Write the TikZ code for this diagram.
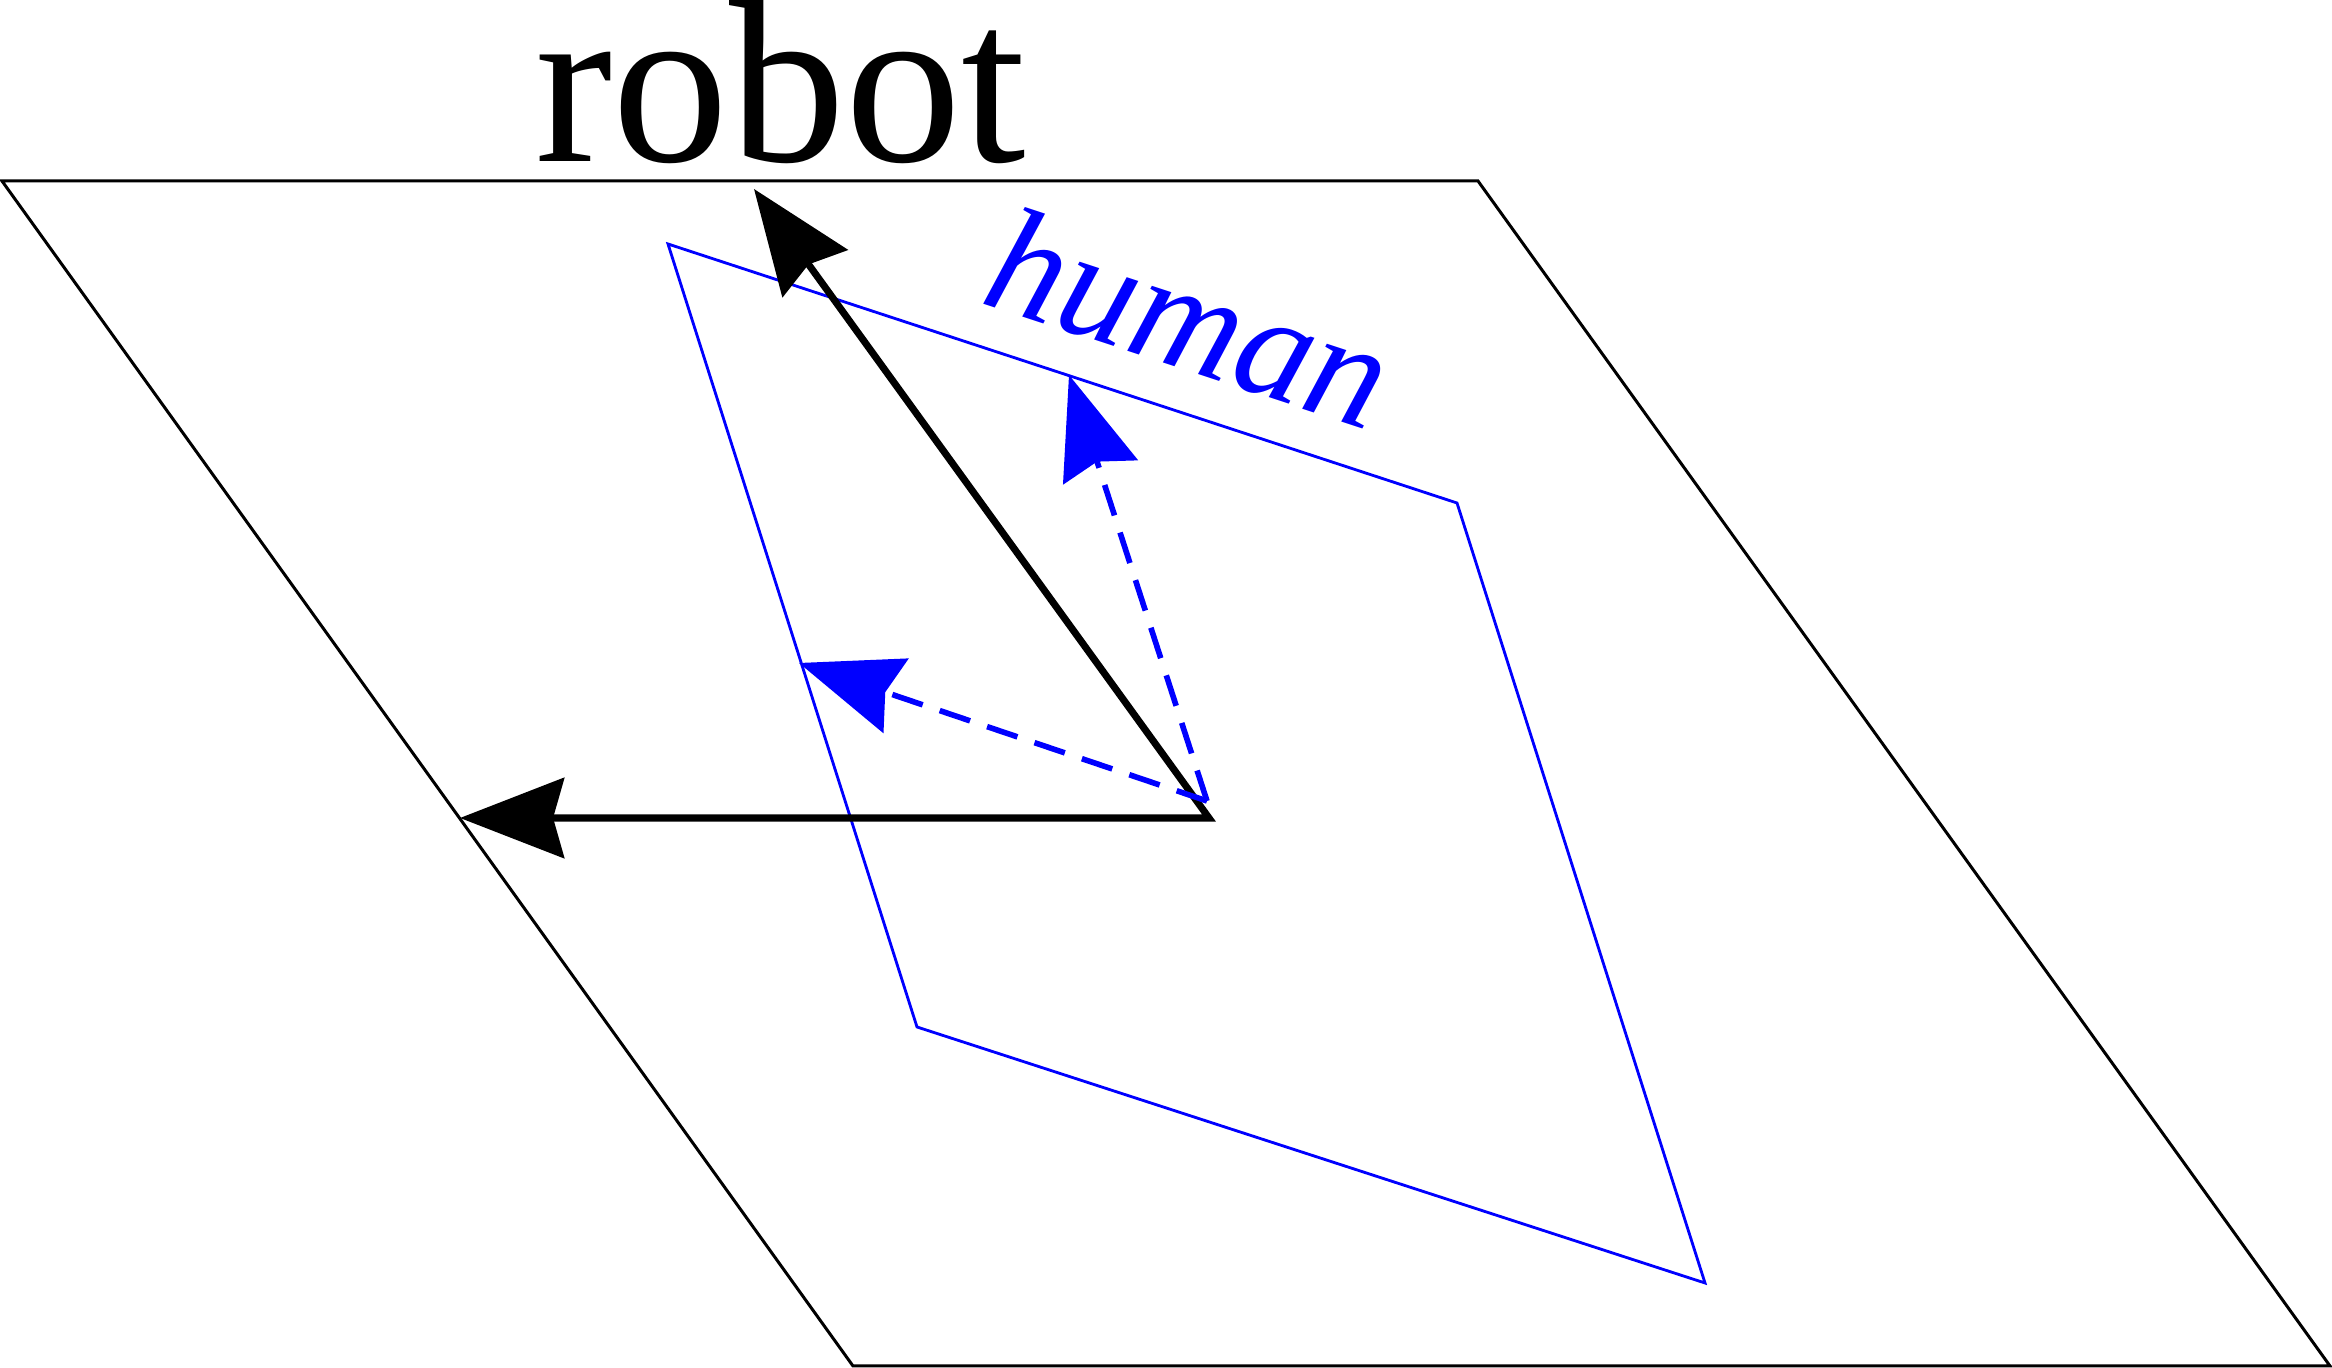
\documentclass[tikz,border=0pt]{standalone}
\usepackage{fontspec}
\setmainfont{Liberation Serif}
\usetikzlibrary{arrows.meta}
\begin{document}
\begin{tikzpicture}[x=0.01cm,y=-0.01cm,
  robframe/.style={line width=0.85pt, line join=miter},
  humframe/.style={draw=blue, line width=0.8pt, line join=miter},
  robtip/.style={},
  robarrow/.style={line width=2pt, line join=miter,
    {Stealth[length=1.04cm,width=0.8cm,inset=0.11cm]}-{Stealth[length=1.04cm,width=0.8cm,inset=0.11cm]}},
  humarrow/.style={draw=blue, line width=1.6pt, dash pattern=on 0.32cm off 0.18cm,
    -{Stealth[length=1.02cm,width=0.78cm,inset=0.11cm,fill=blue]}}]
\useasboundingbox (0,0) rectangle (2332,1368);
% robot frame (parallelogram)
\coordinate (A) at (2,181);
\coordinate (B) at (1478,181);
\coordinate (C) at (2330,1366);
\coordinate (D) at (853,1366);
\draw[robframe] (A) -- (B) -- (C) -- (D) -- cycle;
% human frame (parallelogram)
\coordinate (E) at (668,244);
\coordinate (F) at (1457,503);
\coordinate (G) at (1705,1283);
\coordinate (H) at (917,1027);
\draw[humframe] (E) -- (F) -- (G) -- (H) -- cycle;
% robot axes
\coordinate (O) at (1209,818);
\coordinate (rx) at (460,818);
\coordinate (ry) at (754,189);
\draw[robarrow] (rx) -- (O) -- (ry);
% human axes
\coordinate (Ob) at (1207,801);
\coordinate (hx) at (799,663);
\coordinate (hy) at (1069,375);
\draw[humarrow] (Ob) -- (hx);
\draw[humarrow] (Ob) -- (hy);
% labels
\node[inner sep=0pt, anchor=base west, font=\fontsize{66}{66}\selectfont] (robot) at (535,162) {robot};
\node[inner sep=0pt, anchor=base west, rotate=-18.2, text=blue, font=\fontsize{43}{43}\selectfont\itshape] (human) at (978,302) {human};
\end{tikzpicture}
\end{document}
